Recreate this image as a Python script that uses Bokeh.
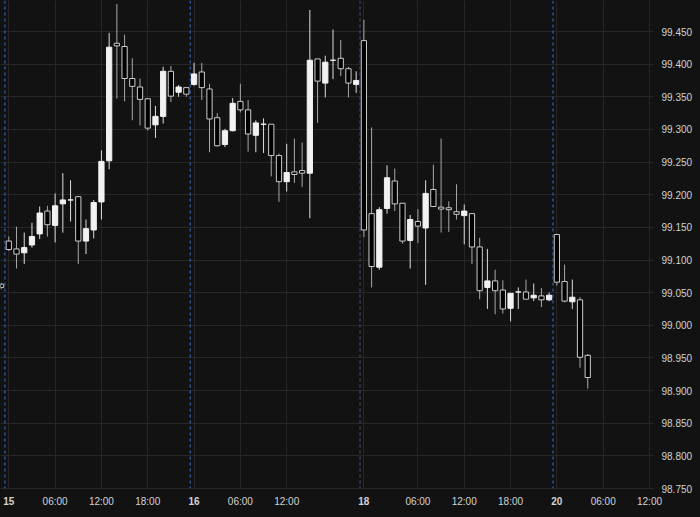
from bokeh.plotting import figure
from bokeh.models import (ColumnDataSource, FixedTicker, Span, LinearAxis,
                          PrintfTickFormatter, GlobalInlineStyleSheet)
from bokeh.embed import file_html
from bokeh.resources import INLINE

# ---------------- data (hourly candles, index-based time axis) ----------------
first_index = -1
opens = [99.063, 99.129, 99.117, 99.111, 99.123, 99.140, 99.175, 99.153, 99.186, 99.192,
         99.197, 99.129, 99.146, 99.189, 99.252, 99.432, 99.427, 99.378, 99.365, 99.347,
         99.307, 99.320, 99.389, 99.357, 99.364, 99.369, 99.388, 99.362, 99.318, 99.277,
         99.298, 99.343, 99.330, 99.291, 99.308, 99.308, 99.260, 99.220, 99.235, 99.237,
         99.233, 99.408, 99.371, 99.406, 99.409, 99.393, 99.369, 99.436, 99.171, 99.089,
         99.179, 99.221, 99.187, 99.130, 99.159, 99.149, 99.208, 99.181, 99.180, 99.174,
         99.168, 99.171, 99.120, 99.058, 99.068, 99.054, 99.026, 99.051, 99.051, 99.042,
         99.045, 99.039, 99.139, 99.067, 99.036, 99.039, 98.954]
highs = [99.065, 99.136, 99.151, 99.142, 99.157, 99.182, 99.183, 99.202, 99.233, 99.222,
         99.198, 99.162, 99.192, 99.268, 99.448, 99.492, 99.445, 99.409, 99.378, 99.348,
         99.336, 99.396, 99.397, 99.368, 99.364, 99.402, 99.402, 99.370, 99.325, 99.301,
         99.348, 99.370, 99.345, 99.314, 99.317, 99.308, 99.263, 99.278, 99.286, 99.280,
         99.483, 99.408, 99.413, 99.453, 99.437, 99.396, 99.389, 99.468, 99.303, 99.181,
         99.245, 99.240, 99.187, 99.169, 99.178, 99.222, 99.246, 99.286, 99.190, 99.216,
         99.185, 99.172, 99.134, 99.117, 99.085, 99.069, 99.049, 99.058, 99.070, 99.064,
         99.057, 99.050, 99.140, 99.093, 99.070, 99.043, 98.956]
lows = [99.055, 99.114, 99.087, 99.094, 99.119, 99.132, 99.136, 99.127, 99.142, 99.159,
        99.094, 99.109, 99.133, 99.162, 99.239, 99.347, 99.343, 99.314, 99.306, 99.298,
        99.287, 99.309, 99.342, 99.350, 99.350, 99.367, 99.345, 99.265, 99.274, 99.273,
        99.297, 99.326, 99.266, 99.265, 99.264, 99.228, 99.189, 99.205, 99.218, 99.212,
        99.164, 99.310, 99.349, 99.377, 99.382, 99.349, 99.356, 99.135, 99.058, 99.085,
        99.171, 99.175, 99.125, 99.087, 99.126, 99.062, 99.182, 99.142, 99.143, 99.162,
        99.124, 99.094, 99.040, 99.025, 99.017, 99.018, 99.006, 99.025, 99.040, 99.037,
        99.028, 99.037, 99.061, 99.035, 99.025, 98.935, 98.903]
closes = [99.058, 99.116, 99.109, 99.119, 99.136, 99.172, 99.154, 99.183, 99.192, 99.192,
          99.129, 99.148, 99.188, 99.251, 99.426, 99.428, 99.378, 99.366, 99.346, 99.302,
          99.320, 99.389, 99.351, 99.365, 99.354, 99.385, 99.364, 99.316, 99.275, 99.298,
          99.340, 99.330, 99.293, 99.310, 99.308, 99.260, 99.220, 99.234, 99.231, 99.233,
          99.406, 99.374, 99.403, 99.406, 99.393, 99.371, 99.375, 99.146, 99.090, 99.177,
          99.226, 99.186, 99.129, 99.162, 99.152, 99.202, 99.182, 99.178, 99.177, 99.170,
          99.175, 99.120, 99.053, 99.068, 99.053, 99.025, 99.049, 99.051, 99.040, 99.046,
          99.039, 99.046, 99.066, 99.037, 99.043, 98.951, 98.920]

x_tick_index = [0, 6, 12, 18, 24, 30, 36, 46, 53, 59, 65, 71, 77, 83]
x_tick_labels = ["15", "06:00", "12:00", "18:00", "16", "06:00", "12:00",
                 "18", "06:00", "12:00", "18:00", "20", "06:00", "12:00"]
day_labels = ["15", "16", "18", "20"]
price_ticks = [98.75, 98.80, 98.85, 98.90, 98.95, 99.00, 99.05, 99.10,
               99.15, 99.20, 99.25, 99.30, 99.35, 99.40, 99.45]

# ---------------- styling ----------------
BG = "#121212"
GRID = "#262626"
TEXT = "#d2d2d2"
FONT = "Liberation Sans"
UP_BODY = "#f2f2f2"
UP_WICK = "#dedede"
DN_FILL = "#000000"
DN_LINE = "#cccccc"
DN_WICK = "#a8a8a8"

idx = list(range(first_index, first_index + len(opens)))
up = [c >= o for o, c in zip(opens, closes)]
src = ColumnDataSource(dict(
    x=idx,
    high=highs,
    low=lows,
    top=[max(o, c) for o, c in zip(opens, closes)],
    bottom=[min(o, c) for o, c in zip(opens, closes)],
    fill=[UP_BODY if u else DN_FILL for u in up],
    line=[UP_BODY if u else DN_LINE for u in up],
    wick=[UP_WICK if u else DN_WICK for u in up],
))

p = figure(width=700, height=517,
           x_range=(-1.075, 83.0), y_range=(98.75, 99.4975),
           output_backend="svg", toolbar_location=None,
           y_axis_location="right",
           background_fill_color=BG, border_fill_color=BG,
           outline_line_color=None,
           min_border_left=0, min_border_top=0,
           min_border_right=51, min_border_bottom=29)

# full-bleed dark page (the chart fills the whole window)
p.stylesheets = [GlobalInlineStyleSheet(
    css="html, body { margin: 0; padding: 0; overflow: hidden; background-color: #121212; }")]

# grids
p.xgrid.ticker = FixedTicker(ticks=x_tick_index)
p.ygrid.ticker = FixedTicker(ticks=price_ticks)
p.xgrid.grid_line_color = GRID
p.ygrid.grid_line_color = GRID

# session separators (start of each day)
day_idx = [t for t, lab in zip(x_tick_index, x_tick_labels) if lab in day_labels]
for t, lab in zip(day_idx, day_labels):
    col = "#45587c" if lab == "18" else "#3a6fd8"
    p.add_layout(Span(location=t - 0.5, dimension="height", line_color=col,
                      line_dash="3 3", line_width=1))

# candles
p.segment(x0="x", y0="low", x1="x", y1="high", line_color="wick", line_width=1, source=src)
p.vbar(x="x", width=0.68, top="top", bottom="bottom", fill_color="fill",
       line_color="line", line_width=1, source=src)

# x axis: hours
xa = p.xaxis[0]
xa.ticker = FixedTicker(ticks=x_tick_index, minor_ticks=[])
xa.major_label_overrides = {t: ("" if lab in day_labels else lab)
                            for t, lab in zip(x_tick_index, x_tick_labels)}
xa.axis_line_color = GRID
xa.major_tick_line_color = None
xa.minor_tick_line_color = None
xa.major_tick_out = 0
xa.major_tick_in = 0
xa.major_label_standoff = 7
xa.major_label_text_color = TEXT
xa.major_label_text_font = FONT
xa.major_label_text_font_size = "10px"

# x axis: bold day labels, stacked under the hour axis and pulled up into its row
day_axis = LinearAxis(
    ticker=FixedTicker(ticks=day_idx, minor_ticks=[]),
    major_label_overrides={t: lab for t, lab in zip(day_idx, day_labels)},
    axis_line_color=None, major_tick_line_color=None, minor_tick_line_color=None,
    major_tick_out=0, major_tick_in=0, major_label_standoff=-13,
    major_label_text_color=TEXT, major_label_text_font=FONT,
    major_label_text_font_size="10px", major_label_text_font_style="bold",
)
p.add_layout(day_axis, "below")

# y axis (right)
ya = p.yaxis[0]
ya.ticker = FixedTicker(ticks=price_ticks, minor_ticks=[])
ya.formatter = PrintfTickFormatter(format="%.3f")
ya.axis_line_color = GRID
ya.major_tick_line_color = GRID
ya.minor_tick_line_color = None
ya.major_tick_out = 4
ya.major_tick_in = 0
ya.major_label_standoff = 8
ya.major_label_text_color = TEXT
ya.major_label_text_font = FONT
ya.major_label_text_font_size = "10px"

open("out.html", "w").write(file_html(p, INLINE))
